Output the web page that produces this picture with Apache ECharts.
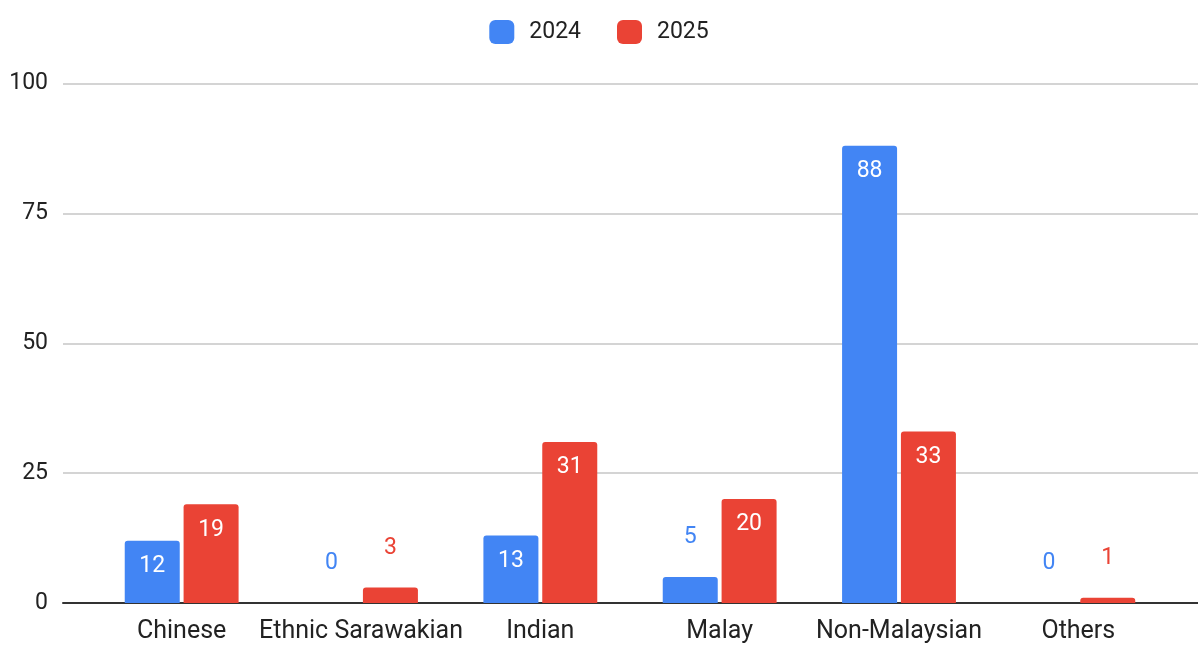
<!DOCTYPE html>
<html>
<head>
<meta charset="utf-8">
<script src="https://cdn.jsdelivr.net/npm/echarts@6/dist/echarts.min.js"></script>
<style>
  html, body { margin: 0; padding: 0; background: #fff; }
  #chart { width: 1198px; height: 646px; }
</style>
</head>
<body>
<div id="chart"></div>
<script>
// Ethnic groups and counts per year
const categories = ['Chinese', 'Ethnic Sarawakian', 'Indian', 'Malay', 'Non-Malaysian', 'Others'];
const values2024 = [12, 0, 13, 5, 88, 0];
const values2025 = [19, 3, 31, 20, 33, 1];
const yTicks = [0, 25, 50, 75, 100];

const BLUE = '#4285F4';
const RED = '#EA4335';
const FONT = 'Roboto, Arial, sans-serif';

// Tall bars carry a white label inside; short ones get a coloured label above.
function withLabels(values, color) {
  return values.map(v => {
    if (v >= 10) {
      return { value: v, label: { show: true, position: 'insideTop', distance: 14, color: '#fff' } };
    }
    return { value: v, label: { show: true, position: 'top', distance: 28, color: color } };
  });
}

const chart = echarts.init(document.getElementById('chart'));
chart.setOption({
  animation: false,
  textStyle: { fontFamily: FONT },
  legend: {
    top: 15,
    left: 'center',
    itemWidth: 25,
    itemHeight: 24,
    itemGap: 36,
    icon: 'roundRect',
    textStyle: { fontSize: 23, color: '#222', padding: [0, 0, 0, 10], fontFamily: FONT },
    data: ['2024', '2025']
  },
  grid: [
    { left: 63, right: 0, top: 83.5, bottom: 43 },
    { left: 92, right: 30, top: 83.5, bottom: 43 }
  ],
  xAxis: [
    {
      gridIndex: 0, type: 'value', min: 0, max: 1,
      axisLine: { show: true, onZero: false, lineStyle: { color: '#333', width: 2 } },
      axisTick: { show: false }, axisLabel: { show: false }, splitLine: { show: false }
    },
    {
      gridIndex: 1, type: 'category', data: categories,
      axisLine: { show: false }, axisTick: { show: false },
      axisLabel: { fontSize: 25, color: '#222', margin: 16, fontFamily: FONT, interval: 0 }
    }
  ],
  yAxis: [
    {
      gridIndex: 0, type: 'value', min: 0, max: 100, interval: 25,
      axisLine: { show: false }, axisTick: { show: false },
      axisLabel: { fontSize: 23, color: '#222', margin: 15, fontFamily: FONT,
        formatter: v => (yTicks.includes(v) ? String(v) : '') },
      splitLine: { lineStyle: { color: '#d4d4d4', width: 2 } }
    },
    {
      gridIndex: 1, type: 'value', min: 0, max: 100, interval: 25,
      show: false, splitLine: { show: false }
    }
  ],
  series: [
    {
      name: '2024', type: 'bar', xAxisIndex: 1, yAxisIndex: 1,
      barWidth: 55, barGap: '7%',
      itemStyle: { color: BLUE, borderRadius: [3, 3, 0, 0] },
      label: { fontSize: 23, fontFamily: FONT },
      data: withLabels(values2024, BLUE)
    },
    {
      name: '2025', type: 'bar', xAxisIndex: 1, yAxisIndex: 1,
      barWidth: 55, barGap: '7%',
      itemStyle: { color: RED, borderRadius: [3, 3, 0, 0] },
      label: { fontSize: 23, fontFamily: FONT },
      data: withLabels(values2025, RED)
    }
  ]
});
</script>
</body>
</html>
